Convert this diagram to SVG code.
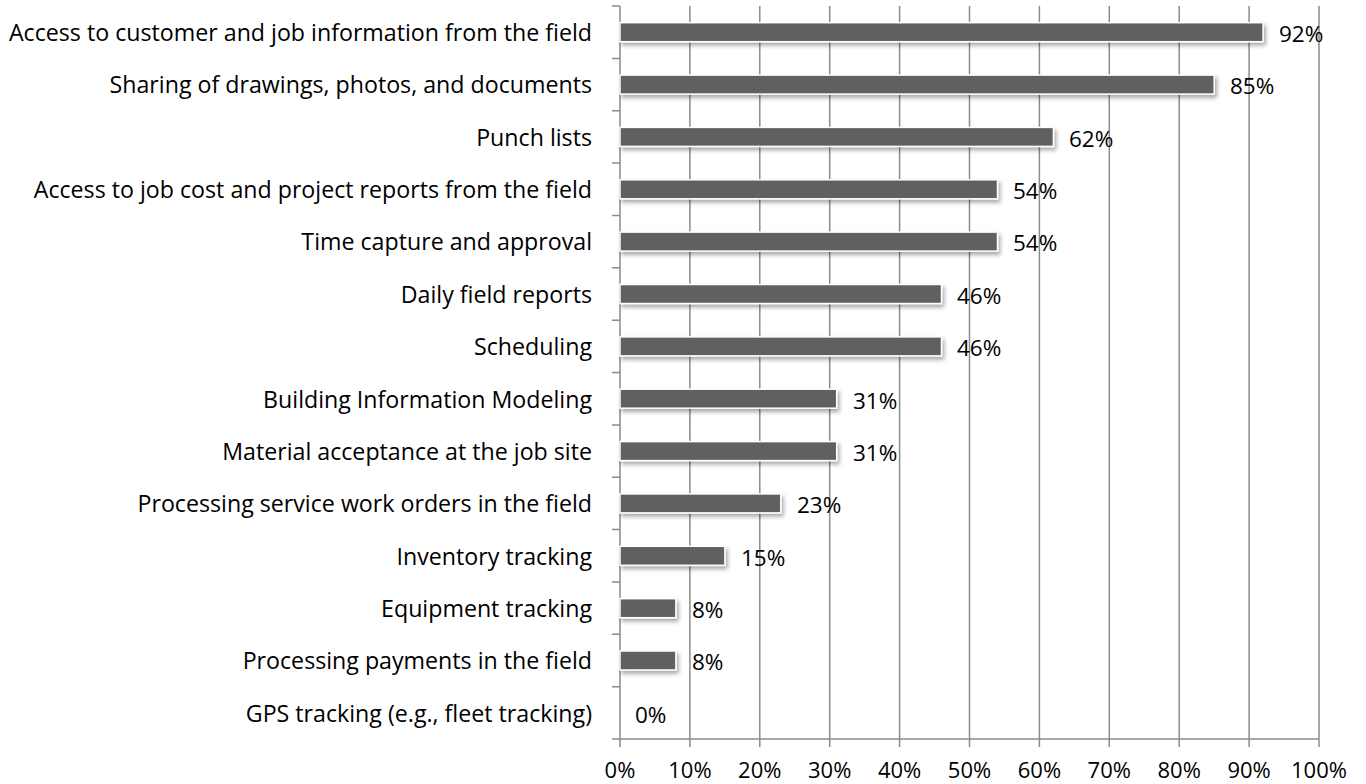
<svg xmlns="http://www.w3.org/2000/svg" width="1366" height="784" viewBox="0 0 1366 784">
<style>
.lbl{font-family:"Open Sans","Liberation Sans",sans-serif;font-size:23.2px;fill:#000;text-anchor:end}
.val{font-family:"Open Sans","Liberation Sans",sans-serif;font-size:22.5px;fill:#000}
.ax{font-family:"Open Sans","Liberation Sans",sans-serif;font-size:22px;fill:#000;text-anchor:middle}
.grid{stroke:#8c8c8c;stroke-width:1.5;fill:none}
.bar{fill:#606060;stroke:#ffffff;stroke-width:1.5;filter:url(#sh)}
</style>
<defs>
<filter id="sh" x="-5%" y="-40%" width="115%" height="200%">
<feDropShadow dx="2" dy="3" stdDeviation="2" flood-color="#000" flood-opacity="0.35"/>
</filter>
</defs>
<rect width="1366" height="784" fill="#fff"/>
<g id="grid">
<path class="grid" d="M689.9 6V747M759.8 6V747M829.7 6V747M899.6 6V747M969.5 6V747M1039.4 6V747M1109.3 6V747M1179.2 6V747M1249.1 6V747M1319 6V747"/>
<path class="grid" d="M620 6V747M612 739H1319M612 6H620M612 58.4H620M612 110.7H620M612 163.1H620M612 215.4H620M612 267.8H620M612 320.2H620M612 372.5H620M612 424.9H620M612 477.2H620M612 529.6H620M612 582H620M612 634.3H620M612 686.7H620"/>
</g>
<g id="bars">
<rect class="bar" x="620" y="22.7" width="643.1" height="19"/>
<rect class="bar" x="620" y="75.1" width="594.2" height="19"/>
<rect class="bar" x="620" y="127.4" width="433.4" height="19"/>
<rect class="bar" x="620" y="179.8" width="377.5" height="19"/>
<rect class="bar" x="620" y="232.1" width="377.5" height="19"/>
<rect class="bar" x="620" y="284.5" width="321.5" height="19"/>
<rect class="bar" x="620" y="336.9" width="321.5" height="19"/>
<rect class="bar" x="620" y="389.2" width="216.7" height="19"/>
<rect class="bar" x="620" y="441.6" width="216.7" height="19"/>
<rect class="bar" x="620" y="493.9" width="160.8" height="19"/>
<rect class="bar" x="620" y="546.3" width="104.9" height="19"/>
<rect class="bar" x="620" y="598.7" width="55.9" height="19"/>
<rect class="bar" x="620" y="651" width="55.9" height="19"/>
</g>
<g id="labels">
<text class="lbl" x="592" y="41">Access to customer and job information from the field</text>
<text class="lbl" x="592" y="93.4">Sharing of drawings, photos, and documents</text>
<text class="lbl" x="592" y="145.7">Punch lists</text>
<text class="lbl" x="592" y="198.1">Access to job cost and project reports from the field</text>
<text class="lbl" x="592" y="250.4">Time capture and approval</text>
<text class="lbl" x="592" y="302.8">Daily field reports</text>
<text class="lbl" x="592" y="355.2">Scheduling</text>
<text class="lbl" x="592" y="407.5">Building Information Modeling </text>
<text class="lbl" x="592" y="459.9">Material acceptance at the job site</text>
<text class="lbl" x="592" y="512.2">Processing service work orders in the field</text>
<text class="lbl" x="592" y="564.6">Inventory tracking</text>
<text class="lbl" x="592" y="617">Equipment tracking</text>
<text class="lbl" x="592" y="669.3">Processing payments in the field</text>
<text class="lbl" x="592" y="721.7">GPS tracking (e.g., fleet tracking)</text>
</g>
<g id="values">
<text class="val" x="1279" y="42">92%</text>
<text class="val" x="1230" y="94.4">85%</text>
<text class="val" x="1069" y="146.7">62%</text>
<text class="val" x="1013" y="199.1">54%</text>
<text class="val" x="1013" y="251.4">54%</text>
<text class="val" x="957" y="303.8">46%</text>
<text class="val" x="957" y="356.2">46%</text>
<text class="val" x="853" y="408.5">31%</text>
<text class="val" x="853" y="460.9">31%</text>
<text class="val" x="797" y="513.2">23%</text>
<text class="val" x="741" y="565.6">15%</text>
<text class="val" x="692" y="618">8%</text>
<text class="val" x="692" y="670.3">8%</text>
<text class="val" x="635" y="722.7">0%</text>
</g>
<g id="axis-labels">
<text class="ax" x="620" y="778">0%</text>
<text class="ax" x="689.9" y="778">10%</text>
<text class="ax" x="759.8" y="778">20%</text>
<text class="ax" x="829.7" y="778">30%</text>
<text class="ax" x="899.6" y="778">40%</text>
<text class="ax" x="969.5" y="778">50%</text>
<text class="ax" x="1039.4" y="778">60%</text>
<text class="ax" x="1109.3" y="778">70%</text>
<text class="ax" x="1179.2" y="778">80%</text>
<text class="ax" x="1249.1" y="778">90%</text>
<text class="ax" x="1319" y="778">100%</text>
</g>
</svg>
